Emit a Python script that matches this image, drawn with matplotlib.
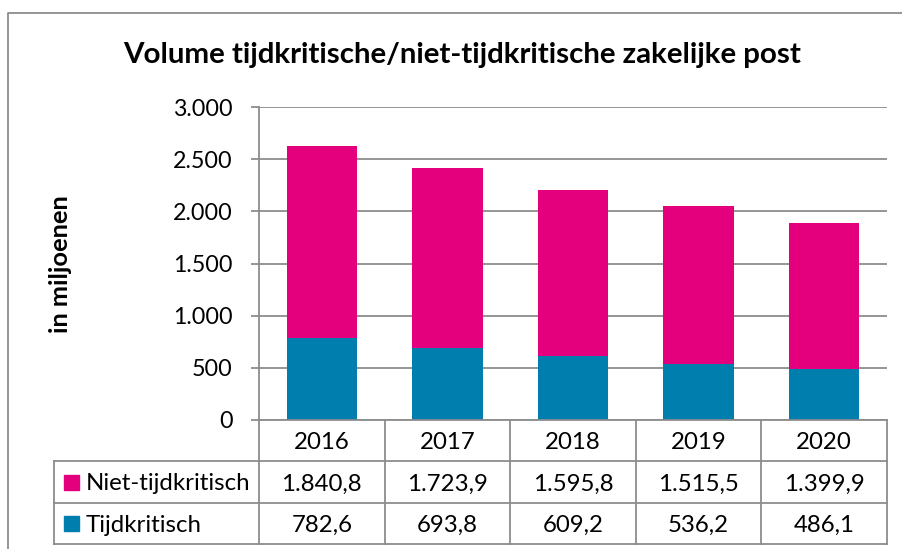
import matplotlib.pyplot as plt
from matplotlib.lines import Line2D
from matplotlib.patches import Rectangle
import numpy as np

plt.rcParams['font.family'] = ['Lato', 'DejaVu Sans']

# data
years = ['2016', '2017', '2018', '2019', '2020']
tijdkritisch = [782.6, 693.8, 609.2, 536.2, 486.1]
niet_tijdkritisch = [1840.8, 1723.9, 1595.8, 1515.5, 1399.9]
series_names = ['Niet-tijdkritisch', 'Tijdkritisch']
yticks = [0, 500, 1000, 1500, 2000, 2500, 3000]
title = 'Volume tijdkritische/niet-tijdkritische zakelijke post'
ylabel = 'in miljoenen'

pink = '#E4007C'
blue = '#007FAE'
grid_col = '#8C8C8C'


def nl(v, dec=1):
    # dutch number format: 1.840,8
    s = f'{v:,.{dec}f}'
    return s.replace(',', '#').replace('.', ',').replace('#', '.')


W, H = 902, 549
fig = plt.figure(figsize=(W / 100, H / 100), dpi=100)
renderer = fig.canvas.get_renderer()


def fit(txt, target_px, weight='normal'):
    # font size that gives the text the width it has in the reference
    t = fig.text(0, 0, txt, fontsize=10, fontweight=weight)
    w = t.get_window_extent(renderer).width
    t.remove()
    return 10 * target_px / w


fs_title = fit(title, 682, 'bold')
fs_tick = fit('3.000', 59)
fs_tab = fit('Niet-tijdkritisch', 165)
fs_ylab = fit(ylabel, 138, 'bold')

# plot area in pixels
left, right, top, zero = 259, 887, 107, 420
ax = fig.add_axes([left / W, (H - zero) / H, (right - left) / W, (zero - top) / H])

x = np.arange(len(years))
ax.bar(x, tijdkritisch, width=0.56, color=blue, zorder=3)
ax.bar(x, niet_tijdkritisch, bottom=tijdkritisch, width=0.56, color=pink, zorder=3)

ax.set_xlim(-0.5, len(years) - 0.5)
ax.set_ylim(0, 3000)
ax.set_yticks(yticks)
ax.set_yticklabels([nl(v, 0) for v in yticks], fontsize=fs_tick)
ax.set_xticks([])
ax.yaxis.grid(True, color=grid_col, linewidth=1.3, zorder=0)
for s in ['top', 'right', 'bottom']:
    ax.spines[s].set_visible(False)
ax.spines['left'].set_color(grid_col)
ax.spines['left'].set_linewidth(1.3)
ax.tick_params(axis='y', length=5.8, width=1.3, color=grid_col, pad=13)

# overlay in pixel coordinates for title, label and data table
ov = fig.add_axes([0, 0, 1, 1], zorder=5)
ov.set_xlim(0, W)
ov.set_ylim(H, 0)
ov.axis('off')
ov.patch.set_alpha(0)

# outer chart border
ov.add_line(Line2D([8, 8, 902], [549, 13, 13], color=grid_col, lw=1.3))

ov.text(462, 63, title, ha='center', va='baseline',
        fontsize=fs_title, fontweight='bold')
ov.text(60, 264, ylabel, ha='center', va='center', rotation=90,
        fontsize=fs_ylab, fontweight='bold')

# data table
col_w = (right - left) / len(years)
row_y = [420, 461, 503, 544]
tab_left = 54
lw = 1.3
ov.add_line(Line2D([left, right], [row_y[0], row_y[0]], color=grid_col, lw=lw))
for yy in row_y[1:]:
    ov.add_line(Line2D([tab_left, right], [yy, yy], color=grid_col, lw=lw))
for i in range(len(years) + 1):
    xx = left + i * col_w
    ov.add_line(Line2D([xx, xx], [row_y[0], row_y[-1]], color=grid_col, lw=lw))
ov.add_line(Line2D([tab_left, tab_left], [row_y[1], row_y[-1]], color=grid_col, lw=lw))

rows = [niet_tijdkritisch, tijdkritisch]
for i, yr in enumerate(years):
    cx = left + (i + 0.5) * col_w
    ov.text(cx, (row_y[0] + row_y[1]) / 2, yr, ha='center', va='center_baseline', fontsize=fs_tab)
    for k, vals in enumerate(rows):
        ov.text(cx, (row_y[k + 1] + row_y[k + 2]) / 2, nl(vals[i]),
                ha='center', va='center_baseline', fontsize=fs_tab)

for k, (name, col) in enumerate(zip(series_names, [pink, blue])):
    cy = (row_y[k + 1] + row_y[k + 2]) / 2
    ov.add_patch(Rectangle((64, cy - 7.5), 15, 15, color=col))
    ov.text(86, cy, name, ha='left', va='center_baseline', fontsize=fs_tab)

fig.savefig('out.png', dpi=100)
